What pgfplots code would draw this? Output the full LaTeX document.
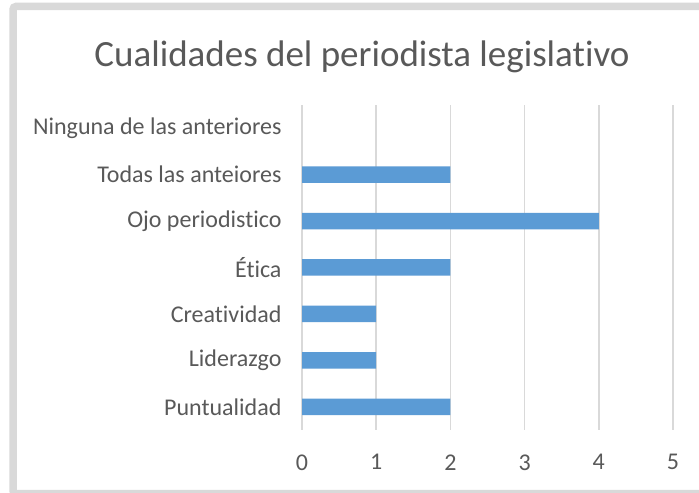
\documentclass[border=0pt]{standalone}
\usepackage{pgfplots}
\pgfplotsset{compat=1.18}
\usepackage{fontspec}
\setmainfont{Carlito}[Ligatures={NoCommon}]
\definecolor{barblue}{HTML}{5B9BD5}
\definecolor{gridgray}{HTML}{D9D9D9}
\definecolor{txtgray}{HTML}{595959}
\begin{document}
\begin{tikzpicture}[x=1bp,y=1bp]
\useasboundingbox (0,0) rectangle (699,493);
\begin{scope}
\clip (0,0) rectangle (699,493);
\fill[white] (0,0) rectangle (699,493);
\draw[gridgray, line width=7.5bp, rounded corners=3bp] (13,-0.75) rectangle (730,486.5);
\end{scope}
\node[anchor=base, text=txtgray, font=\fontsize{37bp}{40bp}\selectfont] at (362,426) {Cualidades del periodista legislativo};
\begin{axis}[
  at={(302bp,63bp)}, anchor=south west,
  scale only axis,
  width=371bp, height=325bp,
  xbar,
  bar width=16.5bp,
  xmin=0, xmax=5,
  ymin=-0.5, ymax=6.5,
  xtick={0,1,2,3,4,5},
  ytick={0,1,2,3,4,5,6},
  yticklabels={Puntualidad,Liderazgo,Creatividad,Ética,Ojo periodistico,Todas las anteiores,Ninguna de las anteriores},
  axis line style={draw=none},
  major tick length=0pt,
  xmajorgrids,
  grid style={gridgray, line width=1.5bp},
  tick label style={text=txtgray, font=\fontsize{24bp}{26bp}\selectfont},
  /pgf/number format/assume math mode=true,
  xticklabel style={yshift=-21bp},
  yticklabel style={xshift=-17bp},
  clip=false,
]
\addplot[fill=barblue, draw=none] coordinates {
  (2,0) (1,1) (1,2) (2,3) (4,4) (2,5)
};
\end{axis}
\end{tikzpicture}
\end{document}
